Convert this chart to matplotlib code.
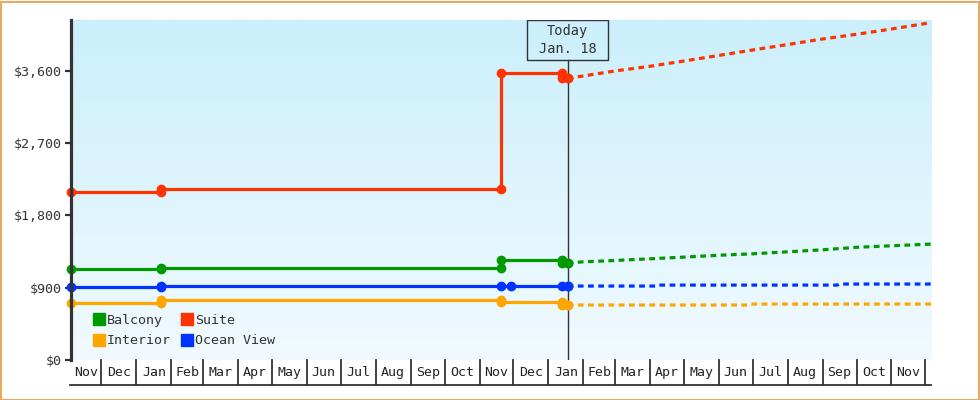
import datetime as dt
import numpy as np
import matplotlib
matplotlib.use("Agg")
import matplotlib.pyplot as plt
import matplotlib.dates as mdates
from matplotlib.patches import Rectangle
from matplotlib.lines import Line2D
from matplotlib.ticker import FuncFormatter

D = dt.date

# ---------------- data ----------------
x_start = D(2016, 11, 4)
x_end = D(2018, 12, 6)
today = D(2018, 1, 18)
today_label = "Today\nJan. 18"

series_names = ["Balcony", "Interior", "Suite", "Ocean View"]
series_colors = ["#009900", "#ffa500", "#ff3300", "#0033ff"]

# observed price history (step corners)
balcony_dates = [D(2016, 11, 4), D(2017, 1, 23), D(2017, 1, 23), D(2017, 11, 20), D(2017, 11, 20),
                 D(2018, 1, 13), D(2018, 1, 13), D(2018, 1, 18)]
balcony_vals = [1131, 1131, 1144, 1144, 1247, 1247, 1206, 1206]

interior_dates = [D(2016, 11, 4), D(2017, 1, 23), D(2017, 1, 23), D(2017, 11, 20), D(2017, 11, 20),
                  D(2018, 1, 13), D(2018, 1, 13), D(2018, 1, 18)]
interior_vals = [709, 709, 746, 746, 721, 721, 684, 684]

suite_dates = [D(2016, 11, 4), D(2017, 1, 23), D(2017, 1, 23), D(2017, 11, 20), D(2017, 11, 20),
               D(2018, 1, 13), D(2018, 1, 13), D(2018, 1, 18)]
suite_vals = [2088, 2088, 2126, 2126, 3567, 3567, 3505, 3505]

ocean_dates = [D(2016, 11, 4), D(2017, 1, 23), D(2017, 1, 23), D(2017, 11, 20), D(2017, 11, 29),
               D(2018, 1, 13), D(2018, 1, 18)]
ocean_vals = [907, 907, 920, 920, 920, 920, 920]

# forecast (dashed)
fc_dates = [D(2018, 1, 18), D(2018, 2, 1), D(2018, 3, 1), D(2018, 4, 1), D(2018, 5, 1), D(2018, 6, 1),
            D(2018, 7, 1), D(2018, 8, 1), D(2018, 9, 1), D(2018, 10, 1), D(2018, 11, 1),
            D(2018, 12, 1), D(2018, 12, 6)]
suite_fc = [3505, 3534, 3596, 3654, 3720, 3789, 3857, 3925, 3994, 4052, 4118, 4186, 4201]
balcony_fc = [1206, 1222, 1238, 1259, 1280, 1303, 1321, 1346, 1371, 1402, 1421, 1439, 1442]

ocean_fc_dates = [D(2018, 1, 18), D(2018, 4, 6), D(2018, 4, 8), D(2018, 9, 14), D(2018, 9, 16), D(2018, 12, 6)]
ocean_fc = [920, 920, 932, 932, 945, 945]

interior_fc_dates = [D(2018, 1, 18), D(2018, 6, 27), D(2018, 6, 29), D(2018, 12, 6)]
interior_fc = [684, 684, 696, 696]

y_ticks = [0, 900, 1800, 2700, 3600]
y_max = 4230

# ---------------- style ----------------
FONT = "DejaVu Sans Mono"
TXT = "#333333"
AX = "#333333"

fig = plt.figure(figsize=(9.8, 4.0), dpi=100)
fig.patch.set_facecolor("white")
W, H = 980, 400
ax = fig.add_axes([71 / W, 40 / H, (931 - 71) / W, (360 - 20) / H])

# outer border
fig.add_artist(Rectangle((0.5 / W, 0.5 / H), (W - 2) / W, (H - 2) / H, transform=fig.transFigure,
                         fill=False, edgecolor="#e8a862", linewidth=1.5))

# gradient background
top_c = np.array([203, 239, 252]) / 255
bot_c = np.array([241, 250, 255]) / 255
t = np.linspace(0, 1, 256)[:, None]
grad = (top_c[None, :] * (1 - t) + bot_c[None, :] * t)[:, None, :]
ax.imshow(grad, extent=[0, 1, 0, 1], transform=ax.transAxes, aspect="auto", zorder=0)

ax.set_xlim(mdates.date2num(x_start), mdates.date2num(x_end))
ax.set_ylim(0, y_max)

for s in ["top", "right", "bottom"]:
    ax.spines[s].set_visible(False)
ax.spines["left"].set_linewidth(2.3)
ax.spines["left"].set_color(AX)
ax.spines["left"].set_zorder(5)

ax.set_yticks(y_ticks)
ax.yaxis.set_major_formatter(FuncFormatter(lambda v, p: "${:,.0f}".format(v)))
ax.tick_params(axis="y", length=4, width=1.6, color=AX, labelsize=9.6, labelcolor=TXT, pad=3)
for lbl in ax.get_yticklabels():
    lbl.set_fontfamily(FONT)
ax.set_xticks([])

lw = 2.3
ms = 6.0

hist = [(balcony_dates, balcony_vals), (interior_dates, interior_vals),
        (suite_dates, suite_vals), (ocean_dates, ocean_vals)]
fcs = [(fc_dates, balcony_fc), (interior_fc_dates, interior_fc),
       (fc_dates, suite_fc), (ocean_fc_dates, ocean_fc)]

for (dts, vals), col in zip(hist, series_colors):
    ax.plot(mdates.date2num(dts), vals, color=col, lw=lw, marker="o", ms=ms, mec=col,
            solid_joinstyle="miter", zorder=4, clip_on=False)
for (dts, vals), col in zip(fcs, series_colors):
    ax.plot(mdates.date2num(dts), vals, color=col, lw=lw, ls=(0, (1.8, 1.4)),
            dash_capstyle="butt", zorder=3, clip_on=False)
    ax.plot(mdates.date2num(dts[:1]), vals[:1], color=col, marker="o", ms=ms, ls="none", zorder=4)

# today line + label box
tn = mdates.date2num(today)
box_h = 40 / 340
ax.plot([tn, tn], [0, 1 - box_h], transform=ax.get_xaxis_transform(), color=AX, lw=1.0, zorder=3.5)
ax.add_patch(Rectangle((mdates.date2num(today) - 40.5 / 1.1288, 1 - box_h), 81 / 1.1288, box_h,
                       transform=ax.get_xaxis_transform(), fill=False, edgecolor=AX, lw=1.0, zorder=6))
ax.text(tn, 1 - box_h / 2, today_label, transform=ax.get_xaxis_transform(), ha="center", va="center",
        fontsize=9.8, fontfamily=FONT, color=TXT, linespacing=1.35, zorder=7)

# month box axis
xt = ax.get_xaxis_transform()
box_bottom = -25 / 340
months = []
m = D(x_start.year, x_start.month, 1)
while m <= x_end:
    months.append(m)
    m = D(m.year + (m.month // 12), m.month % 12 + 1, 1)
lo, hi = mdates.date2num(x_start), mdates.date2num(x_end)
ax.plot([lo - 1, hi], [box_bottom, box_bottom], transform=xt, color=AX, lw=1.3, clip_on=False)
for i, m in enumerate(months):
    a = mdates.date2num(m)
    nxt = months[i + 1] if i + 1 < len(months) else D(m.year + (m.month // 12), m.month % 12 + 1, 1)
    b = mdates.date2num(nxt)
    a_vis, b_vis = max(a, lo), min(b, hi)
    if a > lo:
        ax.plot([a, a], [0, box_bottom], transform=xt, color=AX, lw=1.3, clip_on=False)
    if (b_vis - a_vis) * 1.1288 > 20:
        ax.text((a_vis + b_vis) / 2, box_bottom / 2, m.strftime("%b"), transform=xt,
                ha="center", va="center", fontsize=9.5, fontfamily=FONT, color="#222222")

# legend
handles = [Line2D([], [], marker="s", ls="none", color=c, ms=8) for c in series_colors]
leg = ax.legend(handles, series_names, ncol=2, loc="lower left", bbox_to_anchor=(0.016, 0.01),
                frameon=False, prop={"family": FONT, "size": 9.6}, handlelength=0.7,
                handletextpad=0.25, columnspacing=0.9, labelspacing=0.55, borderpad=0.2)
for txt in leg.get_texts():
    txt.set_color(TXT)

fig.savefig("out.png", dpi=100, facecolor="white")
